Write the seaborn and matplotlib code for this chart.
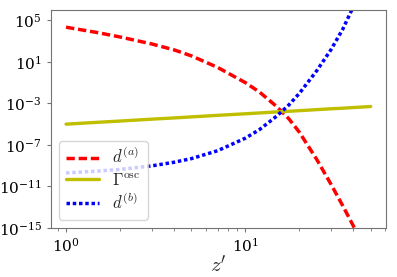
import numpy as np
import pandas as pd
import matplotlib
matplotlib.use("Agg")
import matplotlib.pyplot as plt
import seaborn as sns

# data (log10 of values)
z = [1, 1.5, 2, 3, 4, 5, 7, 10, 12, 15, 17.5, 20, 25, 30, 35, 40, 50]
log_da = [4.34, 3.82, 3.40, 2.73, 2.16, 1.58, 0.47, -1.0, -1.91, -3.32, -4.49, -5.77,
          -8.39, -10.77, -12.88, -14.79, -18.1]
log_gamma = [-5.0, -4.82, -4.7, -4.52, -4.4, -4.3, -4.15, -4.0, -3.92, -3.82, -3.76,
             -3.7, -3.6, -3.52, -3.46, -3.4, -3.3]
log_db = [-9.70, -9.52, -9.36, -9.02, -8.67, -8.32, -7.56, -6.35, -5.52, -4.21, -3.14,
          -2.04, 0.14, 2.16, 4.17, 6.32, 10.78]
labels = [r"$d^{(a)}$", r"$\Gamma^{\rm osc}$", r"$d^{(b)}$"]
yticks = [1e5, 1e1, 1e-3, 1e-7, 1e-11, 1e-15]

sns.set_style("ticks")
plt.rcParams["mathtext.fontset"] = "cm"
plt.rcParams["font.family"] = ["DejaVu Serif"]
plt.rcParams["axes.edgecolor"] = "0.45"

df = pd.DataFrame({
    "z": z * 3,
    "val": [10 ** v for v in log_da + log_gamma + log_db],
    "series": [labels[0]] * len(z) + [labels[1]] * len(z) + [labels[2]] * len(z),
})

fig = plt.figure(figsize=(3.97, 2.77), dpi=100)
ax = fig.add_axes([0.128, 0.177, 0.844, 0.787])

styles = [("r", (0, (2.4, 1.1)), 2.5), ("y", "-", 2.4), ("b", (0, (1, 0.8)), 2.5)]
for lab, (c, ls, lw) in zip(labels, styles):
    sub = df[df["series"] == lab]
    sns.lineplot(data=sub, x="z", y="val", ax=ax, color=c, linestyle=ls, lw=lw,
                 label=lab, sort=False)

ax.set_xscale("log")
ax.set_yscale("log")
ax.set_ylim(1e-15, 1e6)
ax.set_yticks(yticks)
ax.yaxis.set_minor_locator(matplotlib.ticker.NullLocator())
ax.tick_params(labelsize=11, colors="0.45", labelcolor="black", length=3)
ax.tick_params(which="minor", colors="0.45", length=2)
ax.set_xlabel(r"$z'$", fontsize=15, labelpad=0)
ax.set_ylabel("")
for s in ax.spines.values():
    s.set_visible(True)
leg = ax.legend(loc="lower left", fontsize=12, framealpha=0.8, handlelength=2.0,
                borderpad=0.4, labelspacing=0.25, borderaxespad=0.5)
fig.savefig("out.png", dpi=100)
